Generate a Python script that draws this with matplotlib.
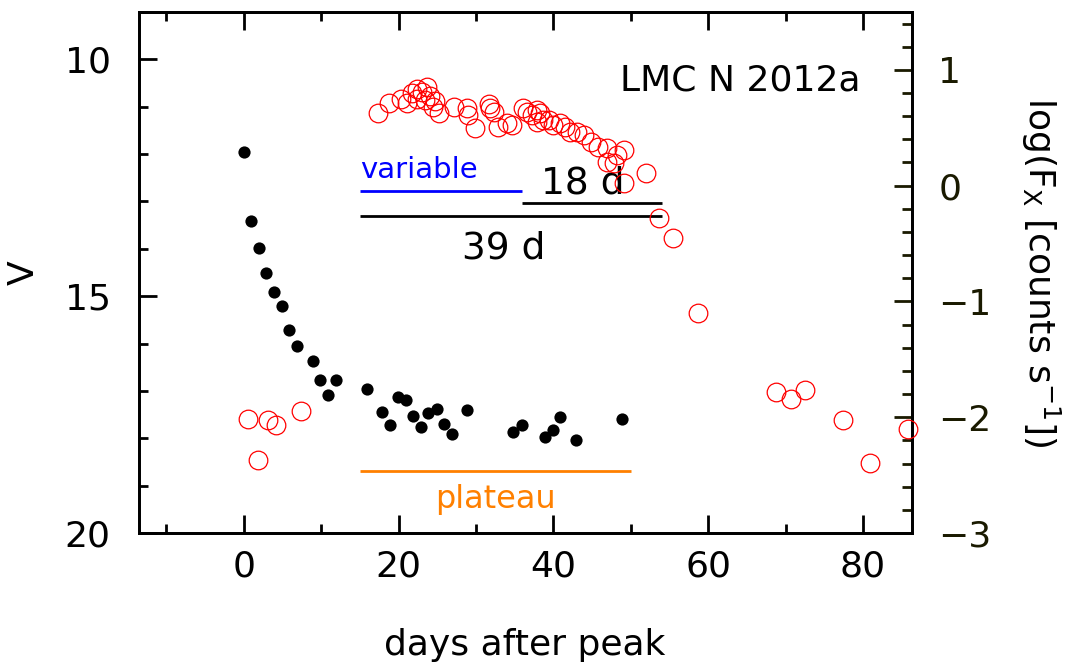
"""Optical and X-ray light curve of LMC N 2012a."""

import matplotlib as mpl
mpl.use("Agg")
import matplotlib.pyplot as plt
from matplotlib.ticker import MultipleLocator

mpl.rcParams.update(
    {
        "font.family": "DejaVu Sans",
        "font.size": 26,
        "axes.linewidth": 2.0,
    }
)

# optical V band (filled black dots)
opt_day = [0.0, 0.9, 1.9, 2.9, 3.9, 4.9, 5.9, 6.9, 8.9, 9.9, 10.9, 11.9,
           15.9, 17.9, 18.9, 19.9, 20.9, 21.9, 22.9, 23.8, 24.9, 25.9, 26.9,
           28.9, 34.8, 35.9, 38.9, 39.9, 40.9, 42.9, 48.9]
opt_v = [11.96, 13.41, 13.99, 14.52, 14.92, 15.20, 15.72, 16.06, 16.36, 16.76,
         17.09, 16.76, 16.95, 17.44, 17.73, 17.13, 17.20, 17.52, 17.77, 17.47,
         17.39, 17.70, 17.90, 17.40, 17.87, 17.73, 17.97, 17.82, 17.55, 18.04,
         17.60]

# X-ray count rate (open red circles)
xr_day = [0.6, 1.85, 3.1, 4.1, 7.4,
          17.4, 18.8, 20.3, 21.1, 21.7, 22.4, 23.0, 23.7, 22.4, 23.4, 24.1,
          24.7, 24.5, 25.2, 27.1, 28.8, 29.0, 29.9, 31.7, 31.8, 32.3, 32.9,
          34.6, 34.0, 36.1, 36.6, 37.2, 37.9, 38.3, 37.9, 38.7, 39.4, 39.9,
          40.9, 41.5, 42.2, 43.0, 43.9, 44.8, 45.8, 46.9, 49.1, 48.2, 46.9,
          47.8, 51.9, 49.1,
          53.7, 55.4, 58.7, 68.8, 70.7, 72.5, 77.4, 80.9, 85.8]
xr_logf = [-2.015, -2.37, -2.02, -2.07, -1.95,
           0.626, 0.718, 0.747, 0.718, 0.80, 0.833, 0.81, 0.85, 0.747, 0.74,
           0.77, 0.73, 0.68, 0.626, 0.683, 0.67, 0.61, 0.495, 0.706, 0.67,
           0.64, 0.51, 0.525, 0.54, 0.67, 0.64, 0.61, 0.654, 0.626, 0.553,
           0.568, 0.568, 0.525, 0.54, 0.51, 0.467, 0.467, 0.438, 0.38, 0.337,
           0.323, 0.31, 0.266, 0.208, 0.194, 0.113, 0.02,
           -0.276, -0.454, -1.097, -1.785, -1.845, -1.762, -2.024, -2.395,
           -2.10]

# phase markers: (start day, end day, V level)
variable_span = (15, 36, 12.79)
span_18d = (36, 54, 13.04)
span_39d = (15, 54, 13.30)
plateau_span = (15, 50, 18.69)

fig = plt.figure(figsize=(10.69, 6.65), dpi=100)
ax = fig.add_axes([0.1296, 0.1985, 0.7233, 0.7835])
ax2 = ax.twinx()

ax.set_xlim(-13.6, 86.3)
ax.set_ylim(20, 9)
ax2.set_ylim(-3, 1.5)

ax.plot(opt_day, opt_v, "o", color="black", ms=8.8, mec="none", zorder=3)
ax2.plot(xr_day, xr_logf, "o", mfc="none", mec="#ff0000", ms=13.4, mew=0.9,
         clip_on=False, zorder=3)

ax.hlines(variable_span[2], variable_span[0], variable_span[1], color="#0000ff", lw=2.0)
ax.text(variable_span[0], 12.34, "variable", color="#0000ff", fontsize=21,
        ha="left", va="center")
ax.hlines(span_18d[2], span_18d[0], span_18d[1], color="black", lw=2.0)
ax.text(43.8, 12.62, "18 d", fontsize=27, ha="center", va="center")
ax.hlines(span_39d[2], span_39d[0], span_39d[1], color="black", lw=2.0)
ax.text(33.6, 13.99, "39 d", fontsize=27, ha="center", va="center")
ax.hlines(plateau_span[2], plateau_span[0], plateau_span[1], color="#ff8000", lw=2.0)
ax.text(32.5, 19.3, "plateau", color="#ff8000", fontsize=23, ha="center", va="center")

ax.text(79.7, 10.44, "LMC N 2012a", fontsize=26, ha="right", va="center")

ax.xaxis.set_major_locator(MultipleLocator(20))
ax.xaxis.set_minor_locator(MultipleLocator(10))
ax.yaxis.set_major_locator(MultipleLocator(5))
ax.yaxis.set_minor_locator(MultipleLocator(1))
ax2.yaxis.set_major_locator(MultipleLocator(1))
ax2.yaxis.set_minor_locator(MultipleLocator(0.2))

ax.tick_params(axis="x", which="both", direction="in", top=True, width=2.0, pad=12)
ax.tick_params(axis="y", which="both", direction="in", right=False, width=2.0, pad=20)
ax.tick_params(which="major", length=12.7)
ax.tick_params(which="minor", length=6.7)
ax2.tick_params(axis="y", which="both", direction="in", width=2.0, pad=19,
                colors="#1a1a00")
ax2.tick_params(which="major", length=13)
ax2.tick_params(which="minor", length=7)

ax.set_xlabel("days after peak", va="center")
ax.xaxis.set_label_coords(0.5, -0.215)
ax.set_ylabel("V")
ax.yaxis.set_label_coords(-0.127, 0.5)
ax2.set_ylabel(r"log(F$_\mathrm{X}$ [counts s$^{-1}$])", rotation=270, va="center")
ax2.yaxis.set_label_coords(1.166, 0.5)

fig.savefig("out.png", dpi=100)
